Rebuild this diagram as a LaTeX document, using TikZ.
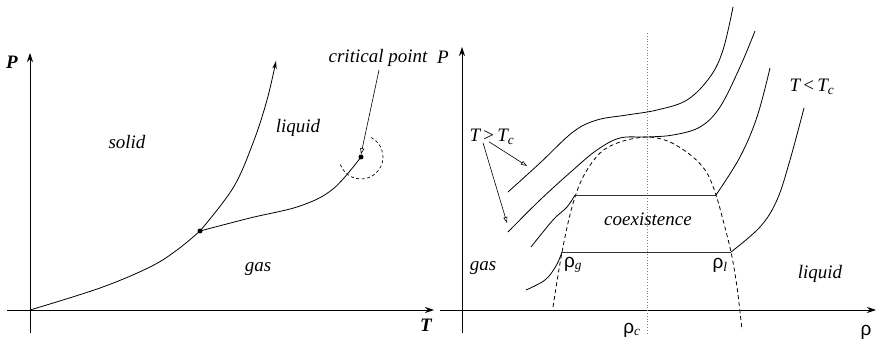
\documentclass[tikz,border=0pt]{standalone}
\usepackage{fontspec}
\setmainfont{Liberation Serif}
\newfontfamily\rhofont{Liberation Sans}
\usetikzlibrary{arrows.meta}
\tikzset{
  curve/.style={line width=0.8pt},
  axis/.style={line width=0.9pt,-{Stealth[length=9pt,width=6pt]}},
  pointer/.style={line width=0.6pt,-{Triangle[open,length=6pt,width=4pt]}},
  lbl/.style={font=\fontsize{19}{21}\selectfont\itshape,inner sep=1pt},
  dot/.style={circle,fill,inner sep=0pt,minimum size=5pt},
  dome/.style={line width=0.8pt,dash pattern=on 4pt off 3pt},
  tie/.style={line width=0.9pt,black!80}
}
\newcommand{\rh}{{\rhofont ρ}}
\begin{document}
\begin{tikzpicture}[x=1pt,y=-1pt]
\useasboundingbox (0,0) rectangle (876,342);
% ---------- left panel ----------
\coordinate (o1) at (30,310);
\coordinate (ptop) at (30,53);
\coordinate (pbot) at (30,333);
\coordinate (tleft) at (7,310);
\coordinate (tright) at (434,310);
\draw[axis] (pbot) -- (ptop);
\draw[axis] (tleft) -- (tright);
\node[lbl,font=\fontsize{19}{21}\selectfont\bfseries\itshape] (Pl) at (12,62) {P};
\node[lbl,font=\fontsize{19}{21}\selectfont\bfseries\itshape] (Tl) at (426,325) {T};
\node[dot] (tp) at (200,231) {};
\node[dot] (cp) at (361,157) {};
\coordinate (melt) at (276,61);
\draw[curve] plot[smooth,tension=0.6] coordinates {(o1) (100,288) (150,267) (177,250) (tp.center)};
\draw[curve,-{Stealth[length=8pt,width=4.5pt]}] plot[smooth,tension=0.6] coordinates {(tp.center) (233,188) (253,143) (267,100) (melt)};
\draw[curve] plot[smooth,tension=0.6] coordinates {(tp.center) (250,218) (300,206) (333,189) (cp.center)};
\draw[line width=0.7pt,dash pattern=on 3pt off 2.5pt] (cp.center) ++(160:22) arc[start angle=160,end angle=-62,radius=22];
\node[lbl] (crit) at (378,58) {critical point};
\coordinate (critfoot) at (379,70);
\draw[pointer] (critfoot) -- (cp.north);
\node[lbl] (solid) at (127,142) {solid};
\node[lbl] (liq1) at (298,128) {liquid};
\node[lbl] (gas1) at (258,269) {gas};
% ---------- right panel ----------
\coordinate (rtop) at (462,47);
\coordinate (rbot) at (462,333);
\coordinate (rl) at (440,310);
\coordinate (rr) at (876,310);
\draw[axis] (rbot) -- (rtop);
\draw[axis] (rl) -- (rr);
\node[lbl] (Pr) at (443,57) {P};
\node[lbl,font=\fontsize{19}{21}\selectfont] (rho) at (866,332) {\rh};
\node[lbl,font=\fontsize{19}{21}\selectfont] (rhoc) at (632,330) {\rh\textsubscript{\itshape c}};
\draw[gray,line width=0.8pt,dotted] (647,33) -- (647,333);
% dome
\draw[dome] plot[smooth,tension=0.55] coordinates {(553,307) (562,252) (572,207) (583,177) (600,153) (620,142) (647,137) (670,142) (693,157) (707,173) (716,195) (723,220) (731,252) (737,287) (742,330)};
% isotherms
\draw[curve] plot[smooth,tension=0.6] coordinates {(508,192) (540,163) (573,132) (597,120) (627,115) (657,110) (687,100) (710,77) (723,50) (733,7)};
\draw[curve] plot[smooth,tension=0.6] coordinates {(508,232) (540,200) (573,170) (597,150) (620,138) (647,137) (673,135) (700,127) (720,107) (740,67) (755,31)};
\coordinate (a1) at (575,195);
\coordinate (a2) at (716,195);
\coordinate (b1) at (562,252);
\coordinate (b2) at (731,252);
\draw[curve] plot[smooth,tension=0.6] coordinates {(531,247) (553,220) (567,207) (a1)};
\draw[curve] plot[smooth,tension=0.6] coordinates {(a2) (740,157) (757,117) (770,68)};
\draw[tie] (a1) -- (a2);
\draw[curve] plot[smooth,tension=0.6] coordinates {(526,290) (545,280) (556,266) (b1)};
\draw[curve] plot[smooth,tension=0.6] coordinates {(b2) (760,227) (777,200) (790,160) (804,108)};
\draw[tie] (b1) -- (b2);
% labels
\node[lbl] (tgt) at (492,137) {T\,{\upshape>}\,T\textsubscript{c}};
\node[lbl] (tlt) at (812,87) {T\,{\upshape<}\,T\textsubscript{c}};
\coordinate (tgtA) at (527,166);
\coordinate (tgtB) at (507,223);
\draw[pointer] (tgt.south) ++(-3,-4) -- (tgtA);
\draw[pointer] (tgt.south) ++(-9,-3) -- (tgtB);
\node[lbl] (gas2) at (483,268) {gas};
\node[lbl] (liq2) at (820,274) {liquid};
\node[lbl] (coex) at (648,219) {coexistence};
\node[lbl,font=\fontsize{19}{21}\selectfont] (rg) at (573,265) {\rh\textsubscript{\itshape g}};
\node[lbl,font=\fontsize{19}{21}\selectfont] (rl2) at (720,265) {\rh\textsubscript{\itshape l}};
\end{tikzpicture}
\end{document}
